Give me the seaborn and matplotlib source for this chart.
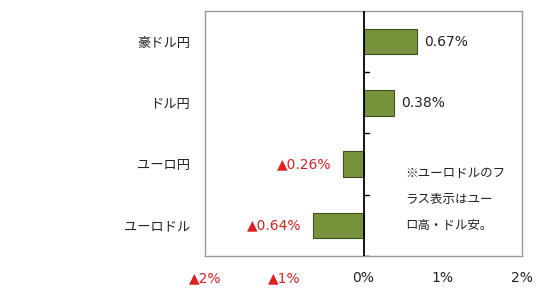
import numpy as np
import pandas as pd
import matplotlib
matplotlib.use('Agg')
import matplotlib.pyplot as plt
import seaborn as sns

sns.set_style('white')
plt.rcParams['font.family'] = ['DejaVu Sans', 'Noto Sans CJK JP']

pairs = ['豪ドル円', 'ドル円', 'ユーロ円', 'ユーロドル']
changes = [0.67, 0.38, -0.26, -0.64]
xticks = [-2, -1, 0, 1, 2]
xtick_labels = ['▲2%', '▲1%', '0%', '1%', '2%']
note = '※ユーロドルのフ\nラス表示はユー\nロ高・ドル安。'

df = pd.DataFrame({'pair': pairs, 'change': changes})

fig, ax = plt.subplots(figsize=(5.5, 2.94), dpi=100)
fig.subplots_adjust(left=0.373, right=0.949, top=0.963, bottom=0.129)

sns.barplot(data=df, x='change', y='pair', orient='h', color='#77933C',
            edgecolor='#3F4F20', linewidth=0.8, width=0.42, saturation=1, ax=ax)

ax.set_xlim(-2, 2)
ax.set_ylim(3.5, -0.5)
ax.set_xlabel('')
ax.set_ylabel('')
ax.set_xticks(xticks)
ax.set_xticklabels(xtick_labels)
for lab, v in zip(ax.get_xticklabels(), xticks):
    lab.set_color('#E02020' if v < 0 else '#222222')
    lab.set_fontsize(10)
ax.tick_params(axis='x', direction='in', length=3, color='#999999', pad=11)
ax.tick_params(axis='y', length=0, pad=11, labelsize=9.5, labelcolor='#222222')

for s in ax.spines.values():
    s.set_color('#999999')
    s.set_linewidth(1)

# zero line with category separators
ax.axvline(0, color='black', lw=1.3, zorder=3)
for i in range(len(pairs)):
    ax.plot([0, 0.07], [i + 0.5, i + 0.5], color='black', lw=1, zorder=3)

for i, v in enumerate(changes):
    if v >= 0:
        ax.text(v + 0.1, i, f'{v:.2f}%', va='center', ha='left',
                fontsize=10, color='#222222')
    else:
        ax.text(v - 0.14, i, f'▲{abs(v):.2f}%', va='center', ha='right',
                fontsize=10, color='#E02020')

ax.text(0.53, 2.05, note, va='top', ha='left', fontsize=9,
        linespacing=2.3, color='#222222', family=['Noto Sans CJK JP'])

fig.savefig('out.png', dpi=100)
